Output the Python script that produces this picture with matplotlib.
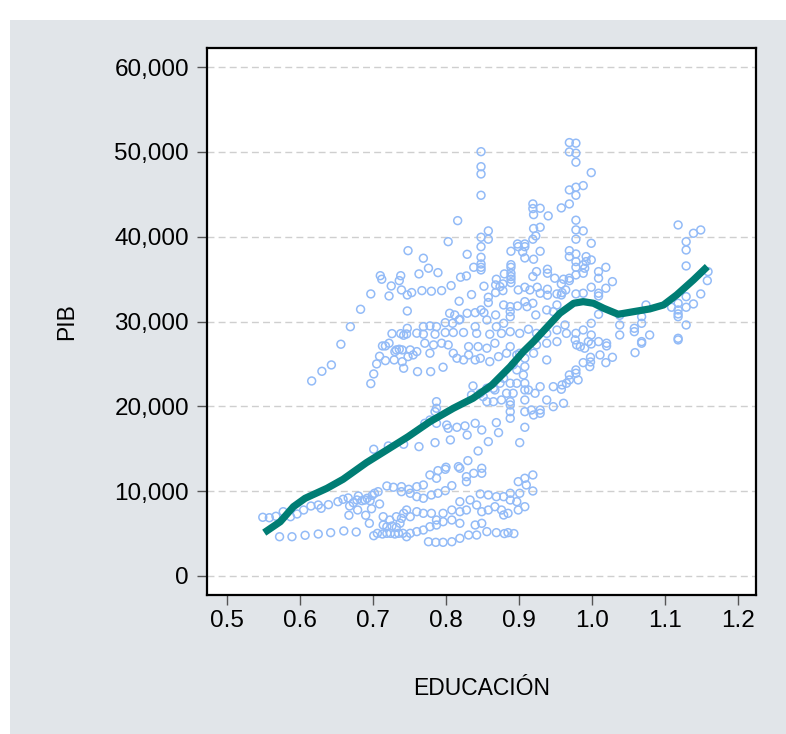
import matplotlib
matplotlib.use("Agg")
import matplotlib.pyplot as plt
from matplotlib.patches import Rectangle
from matplotlib.ticker import FuncFormatter
import numpy as np

plt.rcParams['font.family'] = ['Liberation Sans', 'DejaVu Sans']

# Observed points (education index, GDP per capita)
obs_a = [(0.748,38350),(0.710,35400),(0.712,34980),(0.738,35400),(0.736,34820),(0.725,34190),(0.739,33720),
         (0.697,33250),(0.722,33010),(0.747,33130),(0.683,31440),(0.747,31240),(0.669,29390),(0.747,29200),
         (0.726,28570),(0.738,28570),(0.742,28380),(0.746,28530),(0.656,27320),(0.722,27440),(0.713,27120),
         (0.717,27120),(0.732,26650),(0.736,26730),(0.740,26650),(0.730,26450),(0.748,25860),(0.709,25900),
         (0.717,25390),(0.729,25470),(0.740,25260),(0.705,25000),(0.742,24490),(0.701,23820),(0.697,22680),
         (0.643,24880),(0.630,24130),(0.616,22990)]
obs_b = [(0.549,6920),(0.558,6870),(0.567,7040),(0.577,7580),(0.587,6990),(0.596,7310),(0.605,7780),
         (0.615,8250),(0.625,8370),(0.629,7980),(0.639,8410),(0.652,8760),(0.659,9040),(0.666,9200),
         (0.668,8250),(0.673,8640),(0.678,8960),(0.680,9430),(0.685,8880),(0.689,8960),(0.692,9160),
         (0.696,8880),(0.699,9510),(0.702,9750),(0.707,9940),(0.709,8490),(0.698,7930),(0.690,7160),
         (0.679,7780),(0.667,7160),(0.719,10610),(0.728,10460),(0.739,10530),(0.739,9940),(0.749,10220),
         (0.701,14940),(0.721,15330),(0.742,15530),(0.572,4630),(0.589,4630),(0.607,4800),(0.625,4950),
         (0.642,5110),(0.660,5310),(0.677,5190),(0.695,6210),(0.714,6990),(0.701,4750),(0.706,5030),
         (0.713,4950),(0.719,5030),(0.724,5030),(0.730,4950),(0.735,5030),(0.741,5030),(0.746,4630),
         (0.714,6010),(0.719,5810),(0.726,5890),(0.732,5740),(0.737,6210),(0.739,6800),(0.742,7390),
         (0.746,7780),(0.732,6990),(0.723,6600)]
obs_c = [(0.848,50020),(0.848,48250),(0.848,47390),(0.848,44880),(0.919,43860),(0.919,43310),(0.920,42600),
         (0.929,43350),(0.940,42450),(0.816,41890),(0.920,40960),(0.929,41110),(0.923,40090),(0.919,39700),
         (0.858,40680),(0.848,39930),(0.858,39700),(0.803,39410),(0.848,38820),(0.898,39140),(0.908,39140),
         (0.899,38820),(0.908,38820),(0.889,38280),(0.929,38280),(0.905,38200),(0.829,37920),(0.848,37570),
         (0.769,37460),(0.908,37490),(0.920,37340),(0.889,36700),(0.889,36390),(0.838,36390),(0.848,36780),
         (0.848,36390),(0.848,36080),(0.776,36280),(0.789,35760),(0.763,35610),(0.820,35220),(0.828,35370),
         (0.869,34980),(0.880,35610),(0.889,35690),(0.889,35300),(0.889,34980),(0.889,34580),(0.919,35300),
         (0.924,35880),(0.939,36160),(0.939,35690),(0.949,35100),(0.961,34980),(0.807,34230),(0.852,34160),
         (0.868,34310),(0.878,34430),(0.753,33410),(0.767,33640),(0.780,33570),(0.794,33640),(0.835,33170),
         (0.858,32860),(0.858,32230),(0.899,33720),(0.908,34040),(0.915,33720),(0.929,33330),(0.939,33800),
         (0.939,33100),(0.952,33250),(0.959,33410),(0.964,33720),(0.925,34040),(0.868,33410),(0.874,34110),
         (0.878,33640),(0.818,32390),(0.805,30970),(0.812,30770),(0.819,30260),(0.829,30970),(0.840,31040),
         (0.848,31360),(0.852,31040),(0.868,30770),(0.879,31950),(0.888,31750),(0.888,31160),(0.888,30570),
         (0.898,31830),(0.908,32340),(0.911,31750),(0.919,32150),(0.923,30770),(0.938,31360),(0.947,31160),
         (0.952,31950),(0.769,29390),(0.778,29480),(0.787,29390),(0.799,29860),(0.809,29790),(0.818,30180),
         (0.840,29390),(0.856,30180),(0.869,29390),(0.879,29790),(0.760,28620),(0.769,28500),(0.785,28500),
         (0.799,28700),(0.810,28700),(0.824,28700),(0.842,28600),(0.860,28500),(0.876,28600),(0.888,28800),
         (0.901,28600),(0.913,29090),(0.924,28600),(0.938,28600),(0.952,29000),(0.965,28600)]
obs_d = [(0.771,27440),(0.783,27240),(0.794,27440),(0.803,27240),(0.831,27040),(0.844,27040),(0.856,26850),
         (0.867,27440),(0.888,27040),(0.901,26260),(0.924,27240),(0.938,27440),(0.952,27630),(0.751,26650),
         (0.760,26450),(0.778,26260),(0.755,26060),(0.810,26260),(0.815,25670),(0.824,25470),(0.831,26060),
         (0.840,25470),(0.847,25670),(0.860,25270),(0.872,25860),(0.883,26260),(0.897,26060),(0.908,25670),
         (0.920,26260),(0.938,25470),(0.761,24090),(0.779,24090),(0.796,24610),(0.892,24880),(0.897,24290),
         (0.908,24680),(0.906,23700),(0.888,22720),(0.897,22720),(0.908,22720),(0.879,23310),(0.874,22720),
         (0.865,22130),(0.867,21930),(0.856,22130),(0.837,22400),(0.835,21340),(0.847,21540),(0.851,21140),
         (0.856,20550),(0.865,20550),(0.876,20750),(0.888,20550),(0.892,21540),(0.883,21540),(0.908,21930),
         (0.913,21930),(0.922,21540),(0.929,22320),(0.938,20750),(0.947,22320),(0.959,22520),(0.965,22720),
         (0.908,20750),(0.888,20160),(0.888,19370),(0.888,18590),(0.908,19370),(0.917,19570),(0.929,19570),
         (0.920,18980),(0.929,19180),(0.947,19960),(0.961,20360),(0.787,20550),(0.787,19770),(0.785,19370),
         (0.778,18390),(0.771,18000),(0.787,18000),(0.801,17800),(0.803,17410),(0.815,17530),(0.826,17690),
         (0.829,16620),(0.840,18000),(0.849,17210),(0.869,18080),(0.872,16900),(0.908,17530),(0.763,15250),
         (0.785,15720),(0.806,16040),(0.844,14740),(0.858,15840),(0.901,15720),(0.830,13600),(0.817,12890),
         (0.819,12700),(0.800,12820),(0.799,12580),(0.789,12420),(0.778,11910),(0.787,11520),(0.828,11710),
         (0.828,11120),(0.838,12110),(0.849,12700),(0.849,12110),(0.919,11910),(0.908,11520),(0.899,11120),
         (0.910,10730),(0.919,10020),(0.901,9750),(0.888,9750),(0.760,10530),(0.769,10730),(0.751,9750),
         (0.760,9350),(0.769,9160),(0.780,9550),(0.789,9750),(0.799,10060),(0.808,10650),(0.819,8760),
         (0.833,8960),(0.847,9670),(0.858,9550),(0.869,9350),(0.879,9350),(0.888,8960),(0.897,8760),
         (0.908,8170),(0.751,6990),(0.760,7580),(0.769,7390),(0.780,7390),(0.787,6600),(0.796,7390),
         (0.808,7780),(0.819,7580),(0.828,7780),(0.842,8370),(0.849,7580),(0.858,7780),(0.867,8170),
         (0.876,7780),(0.879,7190),(0.885,7390),(0.899,7780),(0.751,5030),(0.760,5230),(0.769,5420),
         (0.778,5810),(0.787,6010),(0.796,6400),(0.808,6600),(0.819,6210),(0.840,6010),(0.849,6210),
         (0.856,5230),(0.869,5110),(0.885,5110),(0.842,4830),(0.831,4830),(0.819,4440),(0.808,4040),
         (0.796,3970),(0.786,3970),(0.776,4040),(0.880,5000),(0.893,5000)]
obs_e = [(0.969,51090),(0.978,51020),(0.969,49990),(0.978,49840),(0.978,48780),(0.999,47550),(0.969,45510),
         (0.978,45830),(0.988,46020),(0.978,44880),(0.969,43860),(0.958,43390),(0.978,41940),(0.978,40800),
         (0.988,40680),(0.978,39700),(0.999,39220),(0.969,38350),(0.969,37650),(0.978,37960),(0.978,37060),
         (0.978,36390),(0.992,37650),(0.992,37060),(0.988,36670),(0.999,37260),(0.990,36280),(0.988,35690),
         (0.978,35490),(1.019,36390),(1.009,35880),(1.009,35100),(1.028,34700),(1.019,33920),(0.999,34040),
         (0.969,35100),(0.969,34820),(0.958,34430),(0.958,33130),(0.978,33250),(0.988,33330),(1.009,33330),
         (1.009,33010),(1.009,30850),(0.999,29790),(1.038,30730),(1.038,29590),(1.068,30570),(1.068,29790),
         (1.074,31950),(1.058,29200),(1.058,28800),(1.079,28410),(1.038,28410),(0.999,28410),(0.988,29000),
         (0.978,28610),(0.963,29590),(1.118,41380),(1.139,40400),(1.149,40790),(1.129,39410),(1.129,38430),
         (1.129,36550),(1.159,35880),(1.158,34820),(1.149,33250),(1.139,32070),(1.129,32930),(1.129,31680),
         (1.118,32150),(1.118,31360),(1.118,30890),(1.118,30570),(1.109,31680),(1.129,29590),(1.118,28020)]
obs_f = [(0.958,22010),(0.969,23110),(0.969,23700),(0.978,23900),(0.978,24290),(0.981,23110),(0.988,25150),
         (0.997,24680),(0.998,25230),(0.998,25780),(1.011,26060),(1.019,25150),(1.028,25780),(1.059,26330),
         (1.068,27440),(1.068,27630),(1.118,27830),(1.020,27440),(1.020,27120),(0.999,27350),(0.984,27040),
         (0.990,26850),(0.979,27240),(0.995,27630),(1.009,27630),(0.977,27830)]

# Smoothed fit through the cloud
fit_x = [0.551, 0.573, 0.591, 0.607, 0.637, 0.659, 0.691, 0.719, 0.748, 0.778, 0.810, 0.837, 0.863,
         0.888, 0.906, 0.920, 0.938, 0.956, 0.975, 0.988, 1.002, 1.016, 1.036, 1.057, 1.079, 1.098,
         1.116, 1.139, 1.158]
fit_y = [5110, 6400, 8170, 9160, 10340, 11400, 13360, 14860, 16420, 18190, 19770, 20950, 22520,
         24680, 26450, 27630, 29300, 30970, 32150, 32340, 32150, 31560, 30850, 31160, 31480, 31950,
         33130, 34900, 36470]

x_ticks = [0.5, 0.6, 0.7, 0.8, 0.9, 1.0, 1.1, 1.2]
y_ticks = [0, 10000, 20000, 30000, 40000, 50000, 60000]

pts = np.array(obs_a + obs_b + obs_c + obs_d + obs_e + obs_f)

W, H = 786, 734
fig = plt.figure(figsize=(W / 100, H / 100), dpi=100)
fig.patch.set_facecolor('#E1E5E9')
# white margin strips along the left and top edges
fig.add_artist(Rectangle((0, 0), 10 / W, 1, transform=fig.transFigure,
                         facecolor='white', edgecolor='none', zorder=-5))
fig.add_artist(Rectangle((0, (H - 20) / H), 1, 20 / H, transform=fig.transFigure,
                         facecolor='white', edgecolor='none', zorder=-5))

ax = fig.add_axes([207 / W, 139 / H, 549 / W, 547 / H])
ax.set_facecolor('white')
ax.set_xlim(0.4726, 1.2247)
ax.set_ylim(-2240, 62240)

for v in y_ticks:
    ax.axhline(v, color='#CFCFCF', lw=1.0, ls=(0, (5, 3)), zorder=1)

ax.scatter(pts[:, 0], pts[:, 1], s=32, facecolors='none', edgecolors='#93BBF7',
           linewidths=1.1, zorder=2)
ax.plot(fit_x, fit_y, color='#007D74', lw=5.2, solid_capstyle='butt', zorder=3)

ax.set_xticks(x_ticks)
ax.set_xticklabels([f"{v:.1f}" for v in x_ticks])
ax.set_yticks(y_ticks)
ax.yaxis.set_major_formatter(FuncFormatter(lambda v, p: f"{int(v):,}"))
ax.tick_params(axis='both', direction='out', length=7, width=1, color='#555555',
               labelsize=17.5, labelcolor='black')
ax.tick_params(axis='x', pad=4)
ax.tick_params(axis='y', pad=6)
for side in ['top', 'bottom', 'left', 'right']:
    ax.spines[side].set_linewidth(1.6)
    ax.spines[side].set_color('black')

ax.set_xlabel('EDUCACIÓN', fontsize=16.5, labelpad=32)
ax.set_ylabel('PIB', fontsize=16.5, labelpad=26)

fig.savefig('out.png', dpi=100, facecolor=fig.get_facecolor())
